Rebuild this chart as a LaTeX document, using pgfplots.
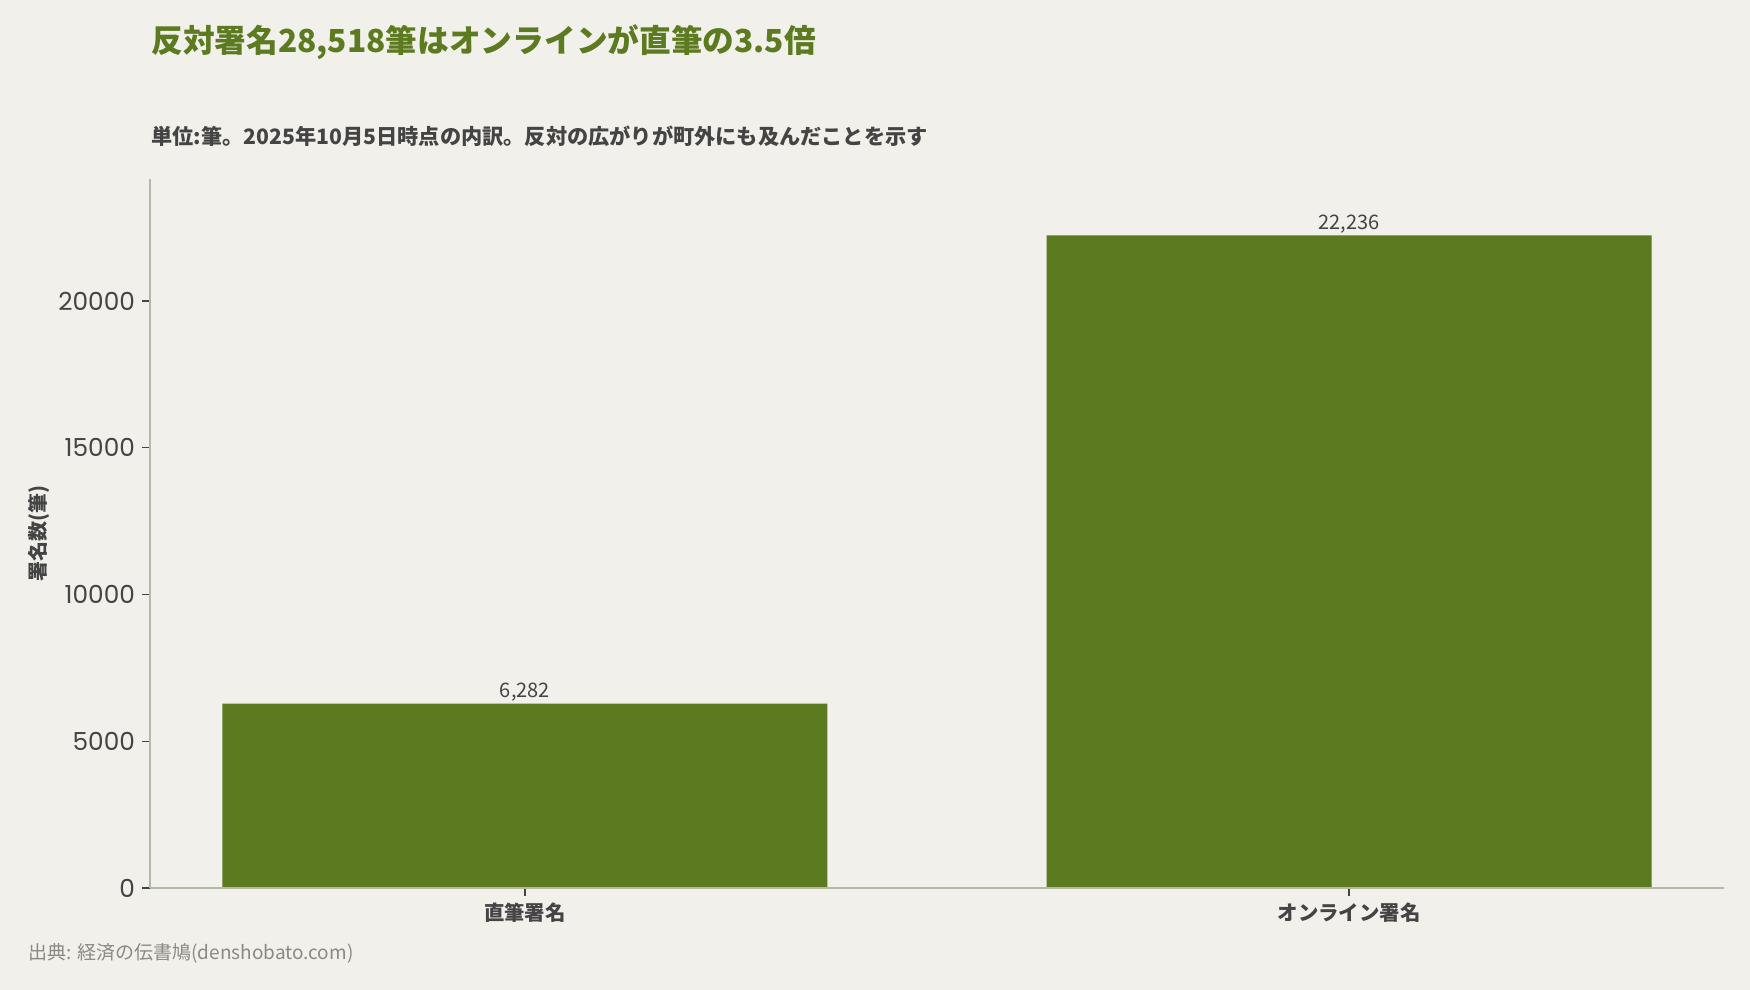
\documentclass[border=0pt]{standalone}
\usepackage{fontspec}
\usepackage{pgfplots}
\pgfplotsset{compat=1.18}
\setmainfont{Noto Sans CJK JP}
\newfontfamily\tickfont{Poppins}

\definecolor{bg}{HTML}{F2F0EA}
\definecolor{barc}{HTML}{5C7A1F}
\definecolor{axisc}{HTML}{B2BAA6}
\definecolor{textc}{HTML}{444444}
\definecolor{srcc}{HTML}{8A8A84}

\begin{document}
\begin{tikzpicture}
\path[use as bounding box] (0,0) rectangle (875pt,495pt);
\fill[bg] (0,0) rectangle (875pt,495pt);

% titles
\node[anchor=west, inner sep=0pt, text=barc, font=\fontsize{15.85}{19}\selectfont\bfseries]
  at (75.5pt,474pt) {反対署名28,518筆はオンラインが直筆の3.5倍};
\node[anchor=west, inner sep=0pt, text=textc, font=\fontsize{10.6}{13}\selectfont\bfseries]
  at (75.5pt,427pt) {単位:筆。2025年10月5日時点の内訳。反対の広がりが町外にも及んだことを示す};
\node[anchor=west, inner sep=0pt, text=srcc, font=\fontsize{9.5}{11}\selectfont]
  at (14pt,18.5pt) {出典: 経済の伝書鳩(denshobato.com)};

\begin{axis}[
    at={(75pt,51pt)}, anchor=south west,
    scale only axis, width=787pt, height=354.5pt,
    xmin=-0.455, xmax=1.455, ymin=0, ymax=24160,
    axis lines*=left,
    axis on top,
    axis line style={color=axisc, line width=0.8pt},
    ybar, bar width=302.5pt, bar shift=0pt,
    xtick={0,1}, xticklabels={直筆署名,オンライン署名},
    ytick={0,5000,10000,15000,20000},
    scaled y ticks=false,
    tick align=outside, major tick length=4pt,
    tick style={color=textc, line width=0.6pt},
    /pgf/number format/assume math mode=true,
    y tick label style={font=\tickfont\fontsize{12.4}{15}\selectfont, text=textc,
        /pgf/number format/1000 sep={}},
    x tick label style={font=\fontsize{10.2}{12}\selectfont\bfseries, text=textc},
    ylabel={署名数(筆)},
    ylabel style={font=\fontsize{10}{12}\selectfont\bfseries, text=textc,
        at={(axis description cs:-0.0705,0.5)}, anchor=center},
    nodes near coords={\pgfmathprintnumber[1000 sep={,}]{\pgfplotspointmeta}},
    every node near coord/.append style={font=\fontsize{10}{12}\selectfont, text=textc,
        yshift=-2.5pt},
]
\addplot[fill=barc, draw=none] coordinates {(0,6282) (1,22236)};
\end{axis}
\end{tikzpicture}
\end{document}
